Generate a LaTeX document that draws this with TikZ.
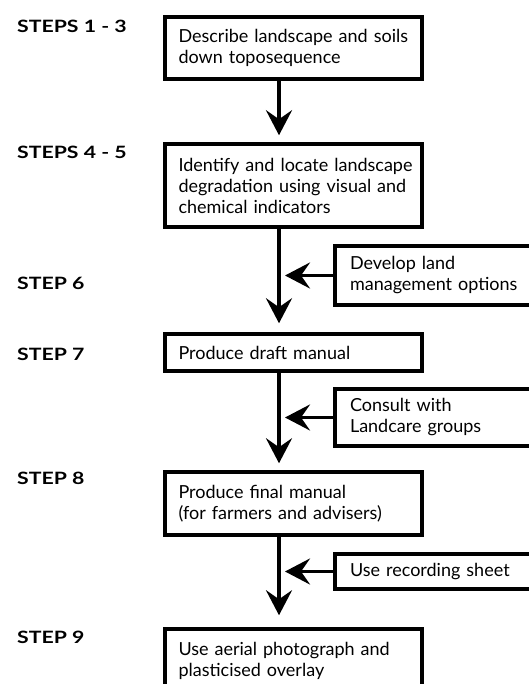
\documentclass[tikz,border=0pt]{standalone}
\usepackage{fontspec}
\setmainfont{Lato}
\newfontfamily\labfont{Lato}[FakeStretch=1.25]
\usetikzlibrary{arrows.meta}
\begin{document}
\begin{tikzpicture}[x=1pt,y=-1pt,
  box/.style={draw=black, line width=3.5pt, fill=white, inner sep=0pt,
    align=left, font=\fontsize{18}{21}\selectfont},
  mainbox/.style={box, minimum width=257pt, text width=230pt},
  sidebox/.style={box, minimum width=230pt, text width=200pt},
  steplabel/.style={anchor=base west, inner sep=0pt, font=\labfont\fontsize{17}{20}\selectfont\bfseries},
  arr/.style={line width=3.5pt, -{Stealth[length=25pt,width=26pt,inset=9pt]}}]
\clip (0,0) rectangle (529,684);
\fill[white] (0,0) rectangle (529,684);
\coordinate (axis) at (279,0);

\node[mainbox, minimum height=62pt] (b1) at (293.5,48) {\mbox{Describe landscape and soils}\\\mbox{down toposequence}};
\node[mainbox, minimum height=83pt] (b2) at (293.5,185.5) {\mbox{Identify and locate landscape}\\\mbox{degradation using visual and}\\\mbox{chemical indicators}};
\node[mainbox, minimum height=37pt] (b3) at (293.5,352.5) {Produce draft manual};
\node[mainbox, minimum height=63pt] (b4) at (293.5,503.5) {\mbox{Produce final manual}\\\mbox{(for farmers and advisers)}};
\node[mainbox, minimum height=63pt] (b5) at (293.5,660.5) {\mbox{Use aerial photograph and}\\\mbox{plasticised overlay}};

\node[sidebox, minimum height=59pt] (s1) at (450,275.5) {\mbox{Develop land}\\\mbox{management options}};
\node[sidebox, minimum height=57pt] (s2) at (450,417.5) {\mbox{Consult with}\\\mbox{Landcare groups}};
\node[sidebox, minimum height=35pt] (s3) at (450,571.5) {Use recording sheet};

\node[steplabel] (l1) at (17,33) {STEPS 1 - 3};
\node[steplabel] (l2) at (17,159) {STEPS 4 - 5};
\node[steplabel] (l3) at (17,289) {STEP 6};
\node[steplabel] (l4) at (17,360) {STEP 7};
\node[steplabel] (l5) at (17,484) {STEP 8};
\node[steplabel] (l6) at (17,643) {STEP 9};

\draw[arr, shorten >=7pt] (axis |- b1.south) -- (axis |- b2.north);
\draw[arr, shorten >=9pt] (axis |- b2.south) -- (axis |- b3.north);
\draw[arr, shorten >=7pt] (axis |- b3.south) -- (axis |- b4.north);
\draw[arr, shorten >=12pt] (axis |- b4.south) -- (axis |- b5.north);

\draw[arr, shorten >=6pt] (s1.west) -- (axis |- s1.west);
\draw[arr, shorten >=6pt] (s2.west) -- (axis |- s2.west);
\draw[arr, shorten >=6pt] (s3.west) -- (axis |- s3.west);
\end{tikzpicture}
\end{document}
